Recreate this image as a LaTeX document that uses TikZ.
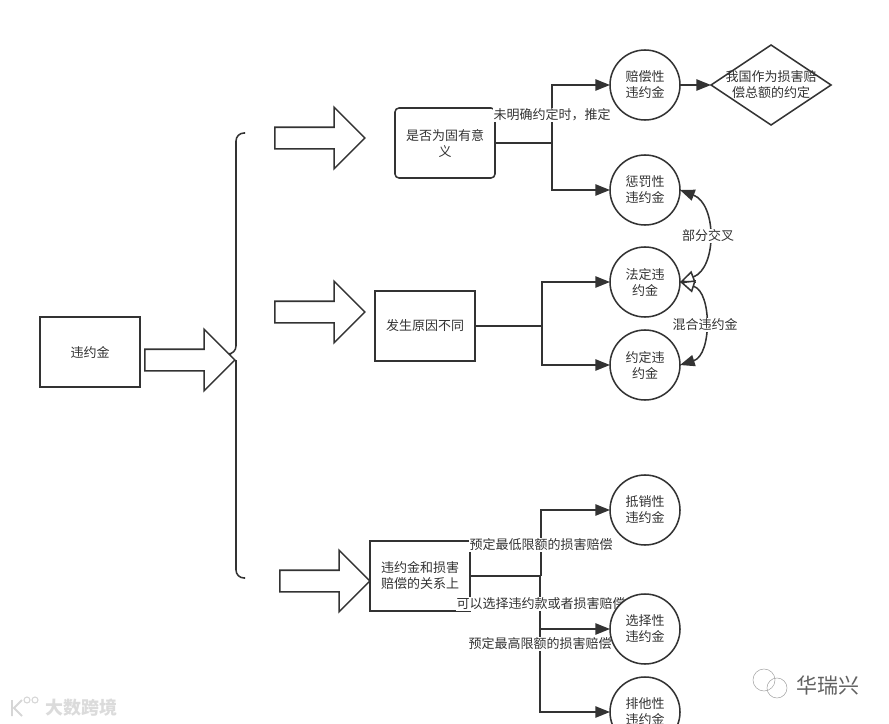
\documentclass[tikz,border=0pt]{standalone}
\usepackage{fontspec}
\setmainfont{Noto Sans CJK SC}
\usepackage{xcolor}
\definecolor{ink}{RGB}{51,51,51}
\usepackage{tikz}
\usetikzlibrary{arrows.meta,shapes.geometric,shapes.arrows,backgrounds}
\pgfdeclarelayer{front}
\pgfsetlayers{background,main,front}
\tikzset{
  flowline/.style={draw=ink, line width=1.15pt},
  tiparrow/.style={flowline, -{Triangle[length=11pt,width=8.5pt]}},
  openarrow/.style={flowline, {Triangle[open,fill=white,length=11pt,width=9.5pt]}-{Triangle[length=11pt,width=8.5pt]}},
  bigbox/.style={draw=ink, line width=1.15pt, fill=white, minimum width=75pt, minimum height=52.5pt, inner sep=0pt, outer sep=0pt, align=center},
  kindcircle/.style={circle, draw=ink, line width=1.15pt, fill=white, minimum size=52.5pt, inner sep=0pt, outer sep=0pt, align=center},
  bigarrow/.style={single arrow, draw=ink, line width=1.15pt, fill=white, minimum height=67.5pt, inner ysep=7.5pt, inner xsep=0pt, outer sep=0pt, single arrow head extend=15pt, single arrow tip angle=90, single arrow head indent=0pt},
  edgelabel/.style={fill=white, inner sep=0.6pt, align=center},
}
\begin{document}
\begin{tikzpicture}[x=0.75pt, y=-0.75pt, font=\fontsize{9.75}{12}\selectfont, text=ink]
\useasboundingbox (0,0) rectangle (889,724);
% boxes
\node[bigbox] (penalty) at (90,352) {违约金};
\node[bigbox, rounded corners=3pt] (inherent) at (445,143) {是否为固有意\\义};
\node[bigbox] (cause) at (425,326) {发生原因不同};
\node[bigbox] (relation) at (420,576) {违约金和损害\\赔偿的关系上};
% block arrows
\node[bigarrow] (arrowMain) at (184.5,360) {};
\node[bigarrow] (arrowTop) at (314.5,138) {};
\node[bigarrow] (arrowMid) at (314.5,312) {};
\node[bigarrow] (arrowLow) at (319.5,581) {};
% circles sit above the labels
\begin{pgfonlayer}{front}
\clip (0,0) rectangle (889,724);
\node[kindcircle] (compens) at (645,85) {赔偿性\\违约金};
\node[kindcircle] (punitive) at (645,190) {惩罚性\\违约金};
\node[kindcircle] (statutory) at (645,282) {法定违\\约金};
\node[kindcircle] (agreed) at (645,365) {约定违\\约金};
\node[kindcircle] (offset) at (645,510) {抵销性\\违约金};
\node[kindcircle] (choice) at (645,629) {选择性\\违约金};
\node[kindcircle] (exclusive) at (645,712) {排他性\\违约金};
\node[diamond, draw=ink, line width=1.15pt, fill=white, aspect=1.5, minimum width=90pt, minimum height=60pt, inner sep=0pt, outer sep=0pt, label={[align=center]center:我国作为损害赔\\偿总额的约定}] (limit) at (771,85) {};
\end{pgfonlayer}
% labels
\node[edgelabel] (lblPresume) at (552,115) {未明确约定时，推定};
\node[edgelabel] (lblCross) at (708,236) {部分交叉};
\node[edgelabel] (lblMixed) at (705,325) {混合违约金};
\node[edgelabel] (lblLow) at (541,545) {预定最低限额的损害赔偿};
\node[edgelabel] (lblEither) at (541,604) {可以选择违约款或者损害赔偿};
\node[edgelabel] (lblHigh) at (540,644) {预定最高限额的损害赔偿};
% brace
\coordinate (braceTop) at (245,133);
\coordinate (braceJoin) at (231,354);
\coordinate (braceLow) at (236,360);
\coordinate (braceEnd) at (245,578);
\coordinate (forkA) at (552,143);
\coordinate (forkB) at (542,326);
\coordinate (forkC) at (541,576);
\coordinate (forkD) at (540,576);
\begin{pgfonlayer}{background}
\draw[flowline, rounded corners=6pt] (braceTop) -| (236,354) -- (braceJoin);
\draw[flowline, rounded corners=6pt] (braceLow) |- (braceEnd);
% connectors
\draw[flowline] (inherent.east) -- (forkA);
\draw[tiparrow] (forkA) |- (compens.west);
\draw[tiparrow] (forkA) |- (punitive.west);
\draw[tiparrow] (compens.east) -- (limit.west);
\draw[flowline] (cause.east) -- (forkB);
\draw[tiparrow] (forkB) |- (statutory.west);
\draw[tiparrow] (forkB) |- (agreed.west);
\draw[flowline] (relation.east) -- (forkC);
\draw[tiparrow] (forkC) |- (offset.west);
\draw[tiparrow] (forkD) |- (choice.west);
\draw[tiparrow] (forkD) |- (exclusive.west);
\draw[openarrow] (statutory.east) .. controls +(37,-14) and +(37,14) .. (punitive.east);
\draw[openarrow] (statutory.east) .. controls +(32,10) and +(32,-10) .. (agreed.east);
\end{pgfonlayer}
% watermarks
\node[font=\fontsize{13.5}{14}\bfseries\selectfont, text=black!14] (markLeft) at (81,708) {大数跨境};
\node[font=\fontsize{15.75}{16}\selectfont, text=black!62] (markRight) at (828,686) {华瑞兴};
\draw[black!16, line width=1.4pt] (12,700) -- (12,716) (22,700) -- (14,708) -- (22,716);
\draw[black!16, line width=0.8pt] (27,700) circle (3) (35,700) circle (3);
\draw[black!35, line width=0.4pt] (764,680) circle (11) (777,688) circle (10);
\end{tikzpicture}
\end{document}
